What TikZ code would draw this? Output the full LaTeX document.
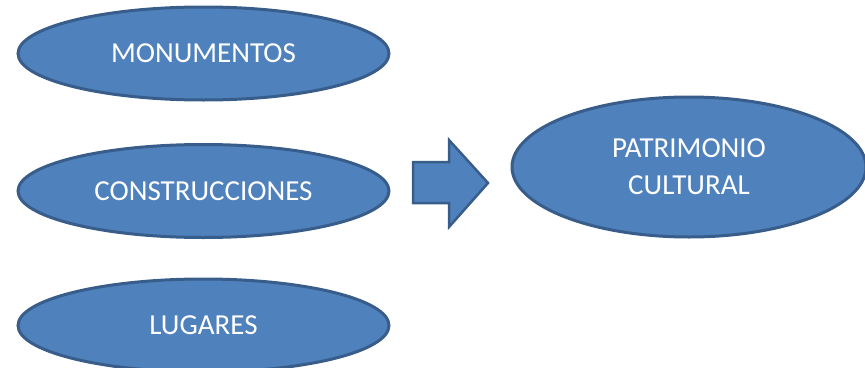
\documentclass[tikz,border=0pt]{standalone}
\usepackage{fontspec}
\setmainfont{Carlito}
\usetikzlibrary{shapes.geometric}
\definecolor{fillblue}{HTML}{4F81BD}
\definecolor{edgeblue}{HTML}{385D8A}
\begin{document}
\begin{tikzpicture}[x=1pt,y=-1pt,
  oval/.style={ellipse, draw=edgeblue, fill=fillblue, line width=3pt, text=white,
    font=\fontsize{29}{37}\selectfont, align=center, inner sep=0pt,
    minimum width=371pt, minimum height=93pt},
]
\useasboundingbox (0,0) rectangle (865,367);
\node[oval] (mon) at (203.5,53.5) {\raisebox{-2pt}{MONUMENTOS}};
\node[oval] (con) at (203.5,191) {\raisebox{-1pt}{CONSTRUCCIONES}};
\node[oval] (lug) at (203.5,325.5) {\raisebox{-3pt}{LUGARES}};
\node[oval, minimum width=354pt, minimum height=140pt] (pat) at (689,167) {PATRIMONIO\\CULTURAL};
\draw[line width=2.5pt, draw=edgeblue, fill=fillblue, line join=miter]
  (413,162) -- (449,162) -- (449,140) -- (488,183) -- (449,227) -- (449,203) -- (413,203) -- cycle;
\end{tikzpicture}
\end{document}
